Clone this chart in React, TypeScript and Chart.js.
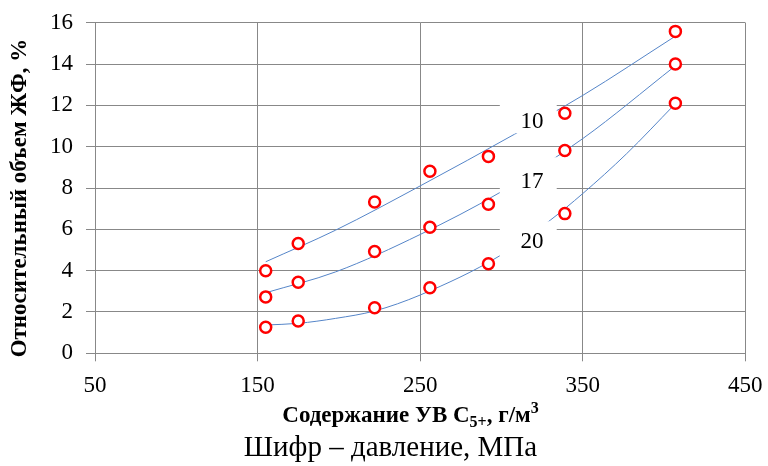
import React, { useEffect, useRef } from "react";
import { Chart, registerables } from "chart.js";

Chart.register(...registerables);

// ---- data ----
const xValues = [155, 175, 222, 256, 292, 339, 407];
const series10 = [4.0, 5.31, 7.32, 8.81, 9.53, 11.62, 15.58];
const series17 = [2.73, 3.44, 4.93, 6.1, 7.21, 9.81, 14.0];
const series20 = [1.26, 1.56, 2.2, 3.17, 4.33, 6.76, 12.1];

// trend curves
const trend10X = [155, 198, 250, 308, 350, 406];
const trend10Y = [4.43, 5.96, 8.1, 10.6, 12.48, 15.3];
const trend17X = [155, 198, 250, 299, 350, 406];
const trend17Y = [2.93, 3.94, 5.75, 7.78, 10.39, 13.85];
const trend20X = [155, 175, 198, 222, 250, 299, 330, 350, 377, 406];
const trend20Y = [1.37, 1.45, 1.69, 2.05, 2.82, 4.72, 6.44, 7.73, 9.66, 12.0];

// curve labels ("шифр")
const curveLabels = ["10", "17", "20"];
const curveLabelY = [11.2, 8.29, 5.39];
const curveLabelX = 318.8;
const labelBoxX = [299, 334];
const labelBoxTop = [12.05, 9.49, 6.39];
const labelBoxBottom = [10.65, 7.75, 4.65];

const xTicks = [50, 150, 250, 350, 450];
const yTicks = [0, 2, 4, 6, 8, 10, 12, 14, 16];

const yTitle = "Относительный объем ЖФ, %";
const xTitleParts = ["Содержание УВ С", "5+", ", г/м", "3"];
const caption = "Шифр – давление, МПа";

const SERIF = "Liberation Serif";
const GRID = "#888888";
const TREND = "#5585c8";

const pts = (xs: number[], ys: number[]) => xs.map((x, i) => ({ x, y: ys[i] }));

const annoPlugin = {
  id: "anno",
  afterDatasetsDraw(chart: any) {
    const { ctx, scales } = chart;
    const xs = scales.x;
    const ys = scales.y;
    ctx.save();
    for (let i = 0; i < curveLabels.length; i++) {
      const x0 = xs.getPixelForValue(labelBoxX[0]);
      const x1 = xs.getPixelForValue(labelBoxX[1]);
      const y0 = ys.getPixelForValue(labelBoxTop[i]);
      const y1 = ys.getPixelForValue(labelBoxBottom[i]);
      ctx.fillStyle = "#ffffff";
      ctx.fillRect(x0, y0, x1 - x0, y1 - y0);
      ctx.fillStyle = "#000";
      ctx.font = `23px "${SERIF}"`;
      ctx.textAlign = "center";
      ctx.textBaseline = "middle";
      ctx.fillText(curveLabels[i], xs.getPixelForValue(curveLabelX), ys.getPixelForValue(curveLabelY[i]));
    }
    ctx.restore();
  },
  afterDraw(chart: any) {
    const { ctx } = chart;
    ctx.save();
    ctx.fillStyle = "#000";
    // y title
    ctx.translate(25.5, 198);
    ctx.rotate(-Math.PI / 2);
    ctx.font = `bold 23px "${SERIF}"`;
    ctx.textAlign = "center";
    ctx.textBaseline = "alphabetic";
    ctx.fillText(yTitle, 0, 0);
    ctx.setTransform(1, 0, 0, 1, 0, 0);

    // x title with subscript / superscript
    const big = `bold 23px "${SERIF}"`;
    const small = `bold 16px "${SERIF}"`;
    const fonts = [big, small, big, small];
    const offs = [0, 5, 0, -9];
    let total = 0;
    const widths = xTitleParts.map((t, i) => {
      ctx.font = fonts[i];
      const w = ctx.measureText(t).width;
      total += w;
      return w;
    });
    let cx = 410.5 - total / 2;
    ctx.textAlign = "left";
    xTitleParts.forEach((t, i) => {
      ctx.font = fonts[i];
      ctx.fillText(t, cx, 422 + offs[i]);
      cx += widths[i];
    });

    // caption
    ctx.font = `29px "${SERIF}"`;
    ctx.textAlign = "center";
    ctx.fillText(caption, 390.5, 456);
    ctx.restore();
  },
};

const noPad = (s: any) => {
  s.paddingLeft = 0;
  s.paddingRight = 0;
  s.paddingTop = 0;
  s.paddingBottom = 0;
};

export default function App() {
  const ref = useRef<HTMLCanvasElement>(null);
  useEffect(() => {
    if (!ref.current) return;
    const chart = new Chart(ref.current, {
      type: "scatter",
      data: {
        datasets: [
          { label: "10", data: pts(xValues, series10), order: 0 },
          { label: "17", data: pts(xValues, series17), order: 0 },
          { label: "20", data: pts(xValues, series20), order: 0 },
          { label: "t10", data: pts(trend10X, trend10Y), order: 1 },
          { label: "t17", data: pts(trend17X, trend17Y), order: 1 },
          { label: "t20", data: pts(trend20X, trend20Y), order: 1 },
        ].map((d) =>
          d.order === 0
            ? {
                ...d,
                pointRadius: 5.5,
                pointBorderWidth: 2.5,
                pointBorderColor: "#ff0000",
                pointBackgroundColor: "#ffffff",
                showLine: false,
              }
            : {
                ...d,
                pointRadius: 0,
                showLine: true,
                borderColor: TREND,
                borderWidth: 1,
                cubicInterpolationMode: "monotone",
                fill: false,
              }
        ) as any,
      },
      options: {
        animation: false,
        responsive: false,
        events: [],
        layout: { padding: { top: 22.7, right: 22.7, left: 0, bottom: 0 } },
        plugins: { legend: { display: false }, tooltip: { enabled: false } },
        scales: {
          x: {
            type: "linear",
            min: 50,
            max: 450,
            afterBuildTicks: (s: any) => {
              s.ticks = xTicks.map((v) => ({ value: v }));
            },
            afterFit: (s: any) => {
              s.height = 112.7;
              noPad(s);
            },
            grid: { color: GRID, lineWidth: 1, tickLength: 8, drawTicks: true },
            border: { color: GRID, width: 1 },
            ticks: { color: "#000", font: { family: SERIF, size: 23 }, padding: 11, maxRotation: 0 },
          },
          y: {
            type: "linear",
            min: 0,
            max: 16,
            afterBuildTicks: (s: any) => {
              s.ticks = yTicks.map((v) => ({ value: v }));
            },
            afterFit: (s: any) => {
              s.width = 95;
              noPad(s);
            },
            grid: { color: GRID, lineWidth: 1, tickLength: 9, drawTicks: true },
            border: { color: GRID, width: 1 },
            ticks: { color: "#000", font: { family: SERIF, size: 23 }, padding: 13 },
          },
        },
      },
      plugins: [annoPlugin],
    });
    return () => chart.destroy();
  }, []);
  return (
    <div style={{ position: "fixed", left: 0, top: 0, width: 768, height: 466, background: "#fff" }}>
      <canvas ref={ref} width={768} height={466} style={{ display: "block" }} />
    </div>
  );
}
